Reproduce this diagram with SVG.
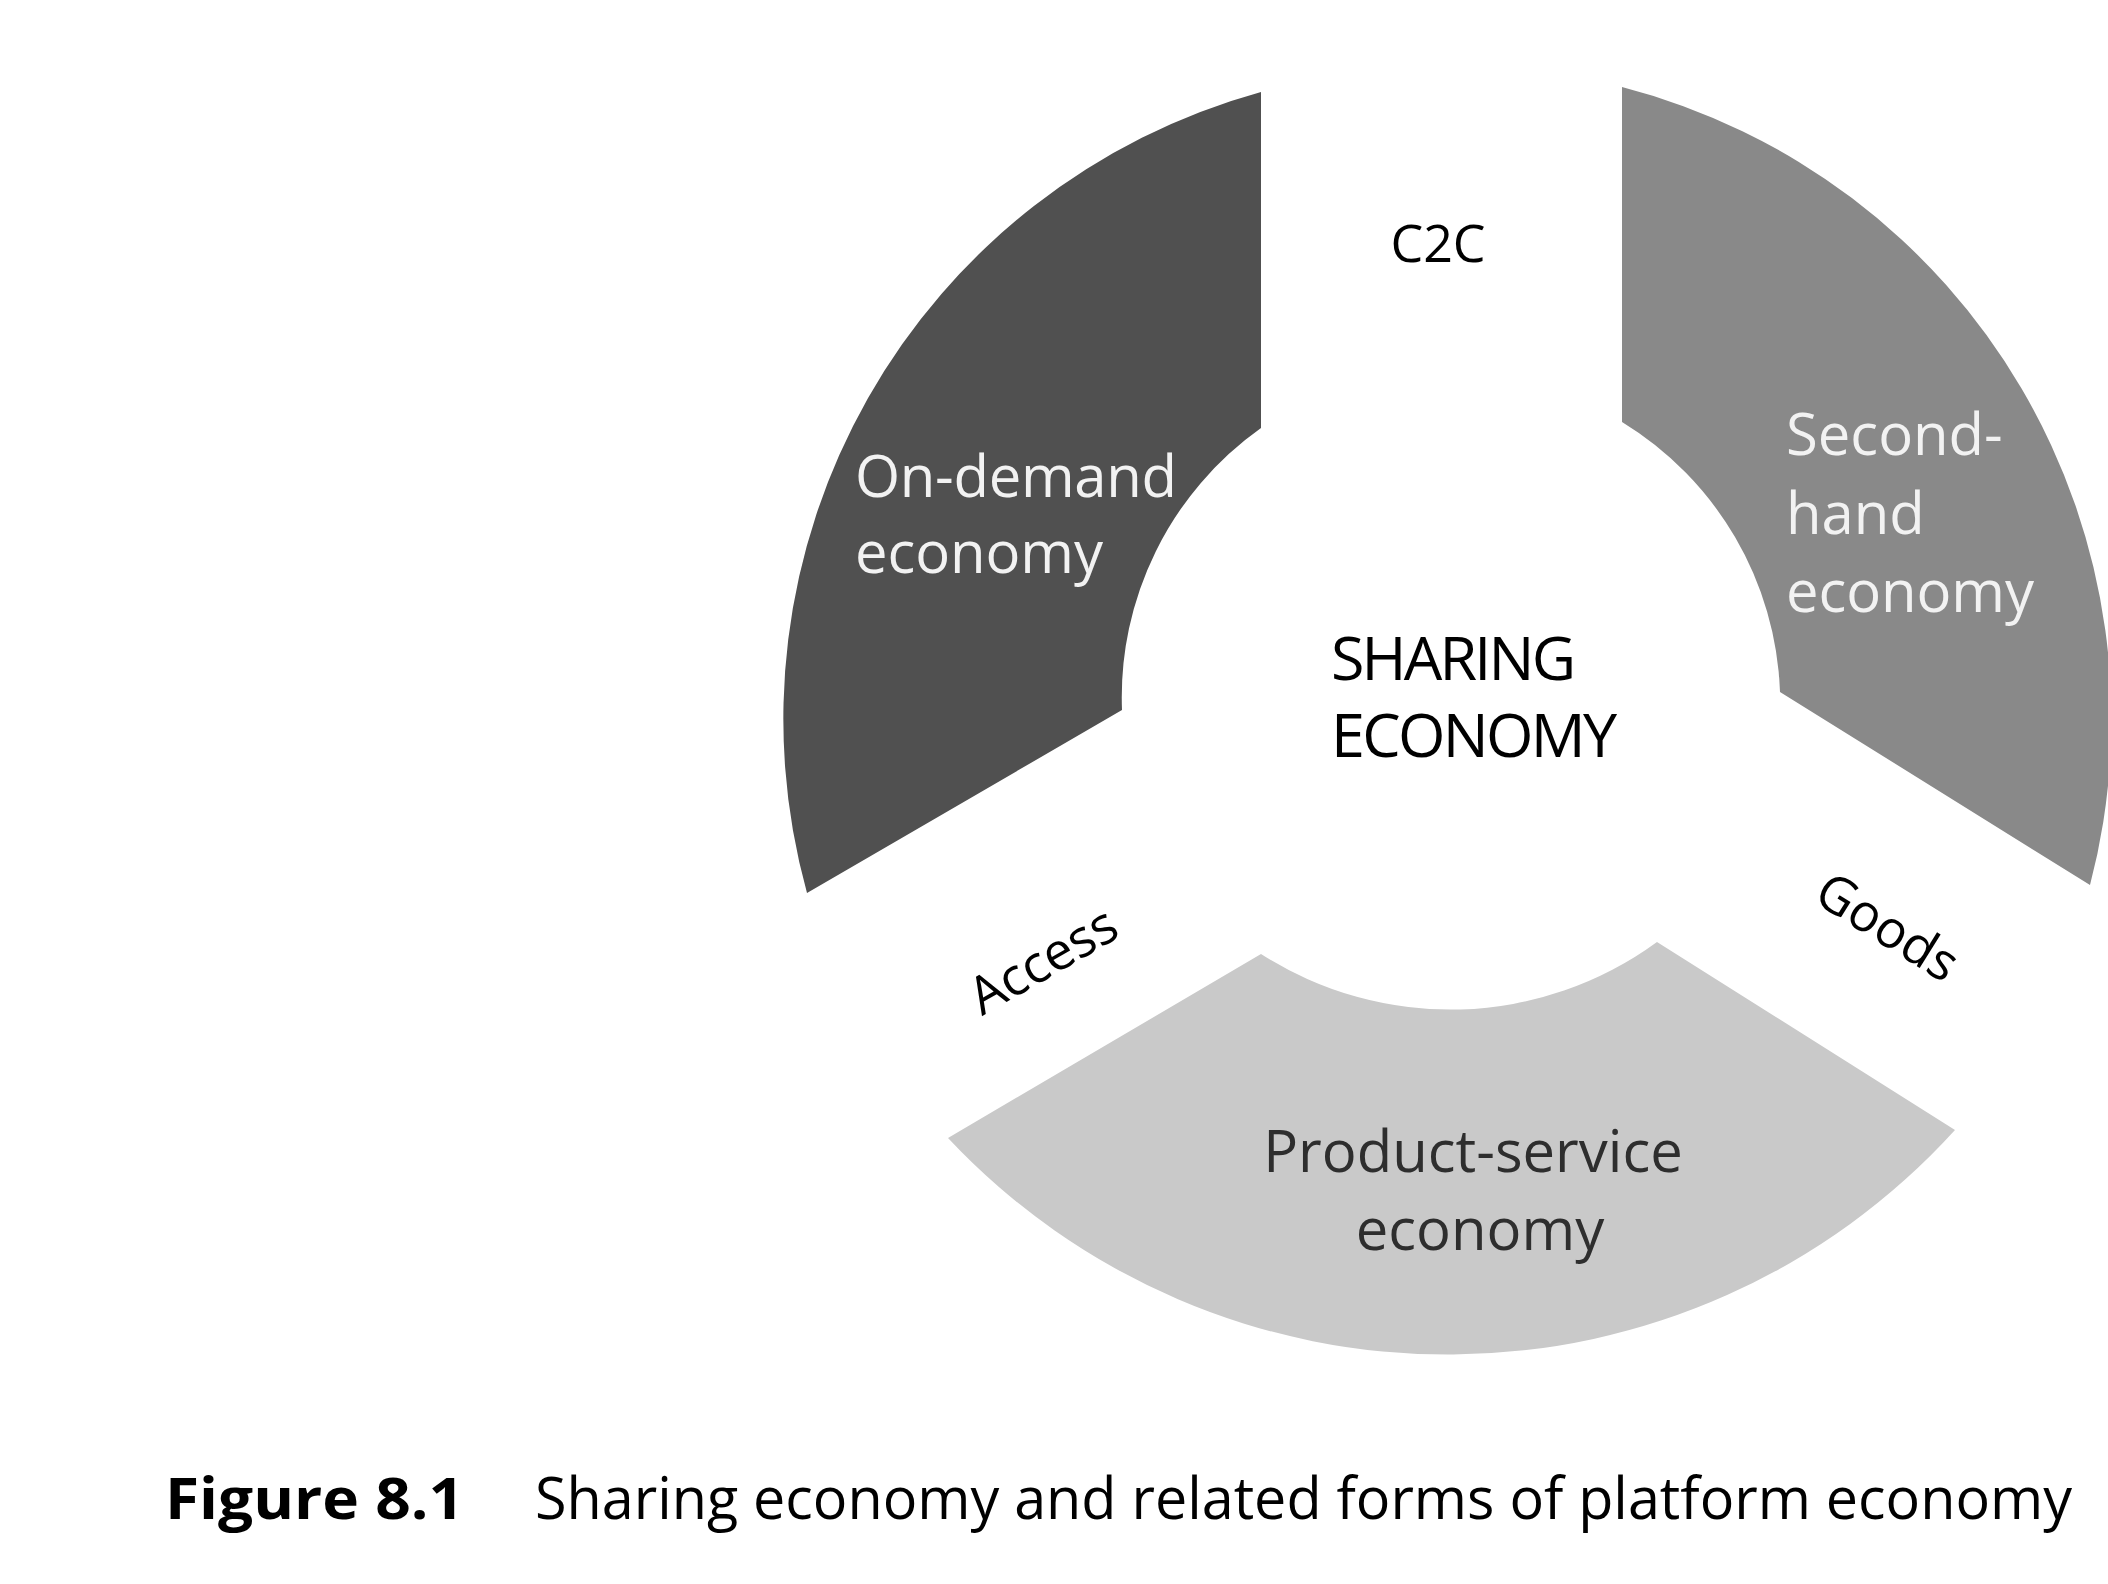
<svg xmlns="http://www.w3.org/2000/svg" width="2108" height="1584" viewBox="0 0 2108 1584">
<style>
text{font-family:"Open Sans","Noto Sans","Liberation Sans",sans-serif}
.seg-label{font-size:58px;font-weight:400}
.light{fill:#f2f2f2}
.dark{fill:#2e2e2e}
.cat{font-size:52px;fill:#000}
.center{font-size:61px;fill:#000}
.cap{font-size:58px;fill:#000}
</style>
<rect width="2108" height="1584" fill="#fff"/>
<g id="on-demand">
<path d="M1261 92 L1261 428 A330 330 0 0 0 1122 710 L807 893 A651 651 0 0 1 1261 92 Z" fill="#505050"/>
<text class="seg-label light" x="855" y="497" textLength="322">On-demand</text>
<text class="seg-label light" x="855" y="573" textLength="248">economy</text>
</g>
<g id="second-hand">
<path d="M1622 87 A653 653 0 0 1 2090 885 L1780 692 A330 330 0 0 0 1622 422 Z" fill="#898989"/>
<text class="seg-label light" x="1786" y="455">Second-</text>
<text class="seg-label light" x="1786" y="534">hand</text>
<text class="seg-label light" x="1786" y="612" textLength="248">economy</text>
</g>
<g id="product-service">
<path d="M1261 954 A350 350 0 0 0 1657 942 L1955 1130 A685 685 0 0 1 948 1138 Z" fill="#c9c9c9"/>
<text class="seg-label dark" x="1473" y="1172" text-anchor="middle">Product-service</text>
<text class="seg-label dark" x="1480" y="1250" text-anchor="middle">economy</text>
</g>
<g id="sharing-economy">
<text class="center" x="1331" y="680" textLength="245">SHARING</text>
<text class="center" x="1331" y="757" textLength="286">ECONOMY</text>
</g>
<g id="connectors">
<text class="cat" x="1438" y="262" text-anchor="middle">C2C</text>
<text class="cat" x="0" y="0" text-anchor="middle" transform="translate(1052 976) rotate(-30)">Access</text>
<text class="cat" x="0" y="0" text-anchor="middle" transform="translate(1878 942) rotate(32)">Goods</text>
</g>
<g id="caption">
<text class="cap" x="165" y="1519" font-weight="bold" textLength="299" lengthAdjust="spacingAndGlyphs">Figure 8.1</text>
<text class="cap" x="535" y="1519" textLength="1537" lengthAdjust="spacingAndGlyphs">Sharing economy and related forms of platform economy</text>
</g>
</svg>
